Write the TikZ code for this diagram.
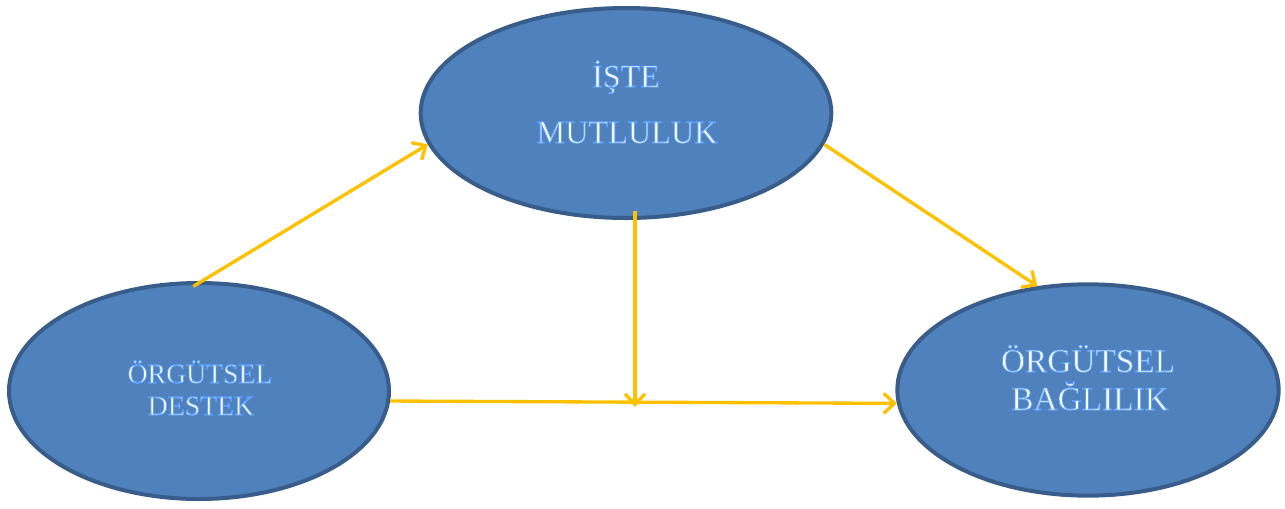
\documentclass[tikz,border=0pt]{standalone}
\usepackage{fontspec}
\setmainfont{Liberation Serif}
\usetikzlibrary{shapes.geometric,arrows.meta}
\definecolor{ellfill}{HTML}{4F81BD}
\definecolor{ellline}{HTML}{385D8A}
\definecolor{arrowyellow}{HTML}{FFC000}
% white letters with a thin blue outline (fill, then stroke)
\newcommand\outlined[1]{\special{pdf:literal direct 2 Tr 0.6 w 0.35 0.62 1 RG}#1\special{pdf:literal direct 0 Tr}}
\tikzset{
  concept/.style={ellipse, draw=ellline, fill=ellfill, line width=3pt, inner sep=0pt},
  lbl/.style={text=white, anchor=base, inner sep=0pt},
  link/.style={draw=arrowyellow, line width=2.5pt, -{Straight Barb[length=8pt,width=15pt]}},
}
\begin{document}
\begin{tikzpicture}[x=0.75pt,y=-0.75pt]
\useasboundingbox (0,0) rectangle (1285,508);

% the three constructs
\node[concept, minimum width=308pt, minimum height=157.5pt] (happy) at (626,113) {};
\node[concept, minimum width=285pt, minimum height=162pt] (support) at (199,391) {};
\node[concept, minimum width=286pt, minimum height=158.5pt] (commit) at (1088,390) {};

% labels
\node[lbl, font=\fontsize{24}{24}\selectfont] (happyA) at (626,87) {\outlined{İŞTE}};
\node[lbl, font=\fontsize{24.2}{24}\selectfont] (happyB) at (627,143) {\outlined{MUTLULUK}};
\node[lbl, font=\fontsize{20.8}{21}\selectfont] (supportA) at (200,383) {\outlined{ÖRGÜTSEL}};
\node[lbl, font=\fontsize{20.8}{21}\selectfont] (supportB) at (201,415) {\outlined{DESTEK}};
\node[lbl, font=\fontsize{25}{25}\selectfont] (commitA) at (1088,372) {\outlined{ÖRGÜTSEL}};
\node[lbl, font=\fontsize{25}{25}\selectfont] (commitB) at (1090,410) {\outlined{BAĞLILIK}};

% paths between the constructs
\coordinate (junction) at (635,407);
\draw[link] ([yshift=-4pt]support.93) -- (happy.189);
\draw[link] (happy.-9) -- (commit.116);
\draw[link] (support.-3) -- (commit.184);
\draw[link] ([xshift=6.75pt,yshift=6.4pt]happy.south) -- (junction);
\end{tikzpicture}
\end{document}
